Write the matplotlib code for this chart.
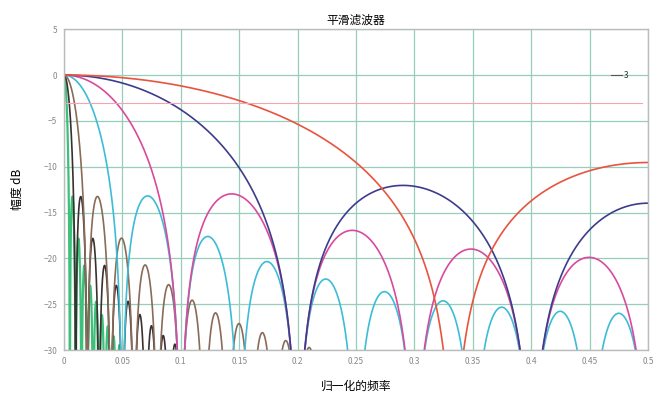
import numpy as np
import matplotlib
matplotlib.use("Agg")
from matplotlib import pyplot as plt

plt.rcParams['font.family'] = ['Noto Sans CJK SC', 'DejaVu Sans']

# moving average (smoothing) filter lengths, read from the zero positions
lengths = [200, 100, 50, 20, 10, 5, 3]
colors = ['#3cc07a', '#3a3030', '#8a6a58', '#3cbcd8', '#d84a9c', '#3c3c8c', '#e8543e']
widths = [1.6, 1.2, 1.2, 1.2, 1.2, 1.2, 1.2]

xticks = [0, 0.05, 0.1, 0.15, 0.2, 0.25, 0.3, 0.35, 0.4, 0.45, 0.5]
xticklabels = ['0', '0.05', '0.1', '0.15', '0.2', '0.25', '0.3', '0.35', '0.4', '0.45', '0.5']
yticks = [5, 0, -5, -10, -15, -20, -25, -30]
half_power = -3

nfft = 2**16
f = np.arange(nfft//2 + 1) / nfft

fig = plt.figure(figsize=(6.69, 3.99), dpi=100)
ax = fig.add_axes([0.0957, 0.1228, 0.873, 0.804])

for n, c, w in zip(lengths, colors, widths):
    h = np.ones(n) / n
    H = np.abs(np.fft.rfft(h, nfft))
    db = 20*np.log10(np.maximum(H, 1e-6))
    ax.plot(f, db, color=c, lw=w)

ax.axhline(half_power, xmin=0, xmax=0.99, color='#f2a6b4', lw=0.8)
ax.plot([0.468, 0.478], [0, 0], color='#555555', lw=0.8)
ax.text(0.479, 0, '3', fontsize=6, color='#333333', va='center', ha='left')

ax.set_xlim(0, 0.5)
ax.set_ylim(-30, 5)
ax.set_xticks(xticks)
ax.set_xticklabels(xticklabels)
ax.set_yticks(yticks)
ax.grid(True, color='#96cebc', lw=0.9)
ax.tick_params(length=0, labelsize=6, colors='#888888', pad=5)
for s in ax.spines.values():
    s.set_color('#bbbbbb')
    s.set_linewidth(1.0)

ax.set_title('平滑滤波器', fontsize=8.5, pad=4)
ax.set_xlabel('归一化的频率', fontsize=8.5, labelpad=10)
ax.set_ylabel('幅度 dB', fontsize=8.5, labelpad=14)

fig.savefig('out.png', dpi=100)
